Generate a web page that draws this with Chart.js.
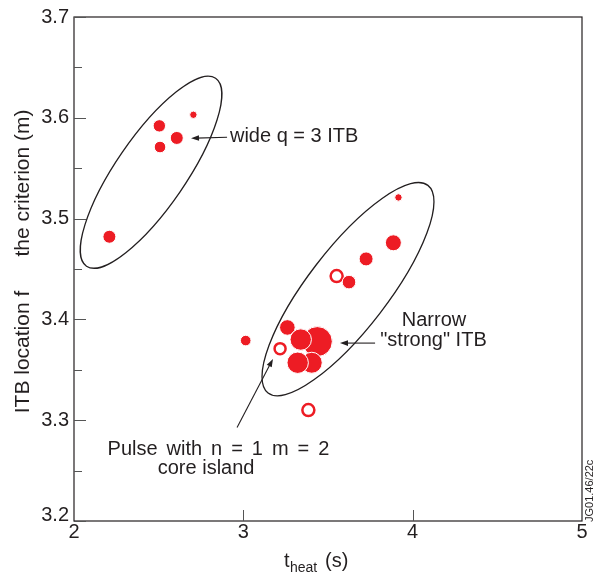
<!DOCTYPE html>
<html>
<head>
<meta charset="utf-8">
<script src="https://cdn.jsdelivr.net/npm/chart.js"></script>
<style>
  html, body { margin: 0; padding: 0; background: #fff; }
  #wrap { width: 606px; height: 575px; position: relative; }
</style>
</head>
<body>
<div id="wrap"><canvas id="itbChart"></canvas></div>
<script>
// values
const filledX = [2.209, 2.504, 2.508, 2.607, 2.705, 3.916, 3.886, 3.725, 3.624, 3.260, 3.014, 3.437, 3.404, 3.339, 3.321];
const filledY = [3.482, 3.592, 3.571, 3.580, 3.603, 3.521, 3.476, 3.460, 3.437, 3.392, 3.379, 3.378, 3.357, 3.380, 3.357];
const filledR = [6.5, 6.2, 5.8, 6.5, 3.7, 3.7, 8, 7, 6.8, 7.8, 5.3, 15, 10.5, 10.7, 10.7];

const openX = [3.551, 3.217, 3.384];
const openY = [3.443, 3.371, 3.310];
const openR = [6, 5.5, 6];

const xTicks = [2, 3, 4, 5];
const yTicks = [3.2, 3.3, 3.4, 3.5, 3.6, 3.7];

const RED = '#ED1C24';
const INK = '#231f20';
const FONT = "'Liberation Sans', Arial, sans-serif";

// circles drawn round the two groups (centre in data units, radii in px)
const groups = [
  { cx: 2.455, cy: 3.546, a: 114, b: 35, rot: -55.5 },
  { cx: 3.618, cy: 3.430, a: 131, b: 40, rot: -52.4 }
];

const arrows = [
  { from: [2.904, 3.5807], to: [2.691, 3.5797] },
  { from: [3.778, 3.3765], to: [3.571, 3.3765] },
  { from: [2.963, 3.2927], to: [3.175, 3.3608] }
];

const notes = [
  { text: 'wide q = 3 ITB', x: 2.921, y: 3.5817, align: 'left', spacing: 0 },
  { text: 'Narrow', x: 4.126, y: 3.399, align: 'center', spacing: 0 },
  { text: '"strong" ITB', x: 4.123, y: 3.3795, align: 'center', spacing: 0 },
  { text: 'Pulse with n = 1 m = 2', x: 2.853, y: 3.271, align: 'center', spacing: 3.4 },
  { text: 'core island', x: 2.78, y: 3.252, align: 'center', spacing: 0 }
];

const toPoints = (xs, ys, rs) => xs.map((x, i) => ({ x: x, y: ys[i], r: rs[i] }));

const overlay = {
  id: 'overlay',
  beforeDatasetsDraw(chart) {
    const { ctx, scales: { x, y } } = chart;
    ctx.save();
    ctx.strokeStyle = INK;
    ctx.lineWidth = 1.3;
    groups.forEach(g => {
      ctx.beginPath();
      ctx.ellipse(x.getPixelForValue(g.cx), y.getPixelForValue(g.cy), g.a, g.b, g.rot * Math.PI / 180, 0, Math.PI * 2);
      ctx.stroke();
    });
    ctx.restore();
  },
  afterDraw(chart) {
    const { ctx, chartArea: area, scales: { x, y } } = chart;
    ctx.save();

    // frame
    ctx.strokeStyle = INK;
    ctx.lineWidth = 1.2;
    ctx.strokeRect(area.left, area.top, area.right - area.left, area.bottom - area.top);

    // inside ticks
    ctx.strokeStyle = '#555';
    ctx.lineWidth = 1;
    ctx.beginPath();
    yTicks.forEach((v, i) => {
      const py = Math.round(y.getPixelForValue(v)) + 0.5;
      ctx.moveTo(area.left, py); ctx.lineTo(area.left + 12, py);
      if (i < yTicks.length - 1) {
        const pm = Math.round(y.getPixelForValue((v + yTicks[i + 1]) / 2)) + 0.5;
        ctx.moveTo(area.left, pm); ctx.lineTo(area.left + 8, pm);
      }
    });
    xTicks.slice(1, -1).forEach(v => {
      const px = Math.round(x.getPixelForValue(v)) + 0.5;
      ctx.moveTo(px, area.bottom); ctx.lineTo(px, area.bottom - 11);
    });
    ctx.stroke();

    // arrows
    ctx.strokeStyle = INK;
    ctx.fillStyle = INK;
    ctx.lineWidth = 1.1;
    arrows.forEach(a => {
      const x0 = x.getPixelForValue(a.from[0]), y0 = y.getPixelForValue(a.from[1]);
      const x1 = x.getPixelForValue(a.to[0]), y1 = y.getPixelForValue(a.to[1]);
      const ang = Math.atan2(y1 - y0, x1 - x0);
      ctx.beginPath();
      ctx.moveTo(x0, y0);
      ctx.lineTo(x1 - 5 * Math.cos(ang), y1 - 5 * Math.sin(ang));
      ctx.stroke();
      ctx.beginPath();
      ctx.moveTo(x1, y1);
      ctx.lineTo(x1 - 8 * Math.cos(ang) + 2.8 * Math.sin(ang), y1 - 8 * Math.sin(ang) - 2.8 * Math.cos(ang));
      ctx.lineTo(x1 - 8 * Math.cos(ang) - 2.8 * Math.sin(ang), y1 - 8 * Math.sin(ang) + 2.8 * Math.cos(ang));
      ctx.closePath();
      ctx.fill();
    });

    // annotation text
    ctx.font = '20px ' + FONT;
    ctx.textBaseline = 'middle';
    notes.forEach(n => {
      ctx.textAlign = n.align;
      ctx.wordSpacing = n.spacing + 'px';
      ctx.fillText(n.text, x.getPixelForValue(n.x), y.getPixelForValue(n.y));
    });
    ctx.wordSpacing = '0px';

    // x axis title with subscript
    ctx.textAlign = 'left';
    ctx.textBaseline = 'alphabetic';
    ctx.font = '20px ' + FONT;
    ctx.fillText('t', 284, 567);
    ctx.font = '14px ' + FONT;
    ctx.fillText('heat', 290, 572);
    ctx.font = '20px ' + FONT;
    ctx.fillText('(s)', 325, 567);

    // y axis title (middle part blanked in the original)
    ctx.save();
    ctx.translate(23, 0);
    ctx.rotate(-Math.PI / 2);
    ctx.textAlign = 'center';
    ctx.textBaseline = 'middle';
    ctx.font = '21px ' + FONT;
    ctx.fillText('ITB location f', -352, 0);
    ctx.fillText('the criterion (m)', -183, 0);
    ctx.restore();

    // figure id
    ctx.save();
    ctx.translate(590, 522);
    ctx.rotate(-Math.PI / 2);
    ctx.textAlign = 'left';
    ctx.textBaseline = 'middle';
    ctx.font = '11px ' + FONT;
    ctx.fillText('JG01.46/22c', 0, 0);
    ctx.restore();

    ctx.restore();
  }
};

new Chart(document.getElementById('itbChart'), {
  type: 'bubble',
  data: {
    datasets: [
      {
        data: toPoints(filledX, filledY, filledR),
        backgroundColor: RED,
        borderColor: '#fff',
        borderWidth: 1
      },
      {
        data: toPoints(openX, openY, openR),
        backgroundColor: '#fff',
        borderColor: RED,
        borderWidth: 2.5
      }
    ]
  },
  options: {
    responsive: true,
    maintainAspectRatio: false,
    animation: false,
    events: [],
    layout: { padding: { top: 13, right: 24, left: 0, bottom: 0 } },
    plugins: { legend: { display: false }, tooltip: { enabled: false } },
    scales: {
      x: {
        type: 'linear',
        min: 2, max: 5,
        afterFit: s => { s.height = 54; },
        afterBuildTicks: s => { s.ticks = xTicks.map(v => ({ value: v })); },
        grid: { display: false, drawTicks: false },
        border: { display: false },
        ticks: {
          autoSkip: false,
          padding: -1,
          color: INK,
          font: { family: FONT, size: 20 },
          maxRotation: 0,
          callback: v => String(v)
        }
      },
      y: {
        type: 'linear',
        min: 3.2, max: 3.7,
        afterFit: s => { s.width = 74; },
        afterBuildTicks: s => { s.ticks = yTicks.map(v => ({ value: v })); },
        grid: { display: false, drawTicks: false },
        border: { display: false },
        ticks: {
          autoSkip: false,
          padding: 5,
          color: INK,
          // lowest label sits a little above its tick, clear of the x label
          font: c => ({ family: FONT, size: 20, lineHeight: (c.tick && c.tick.value === yTicks[0]) ? 0.55 : 1.2 }),
          callback: v => (v === yTicks[0] ? [Number(v).toFixed(1), ''] : Number(v).toFixed(1))
        }
      }
    }
  },
  plugins: [overlay]
});
</script>
</body>
</html>
